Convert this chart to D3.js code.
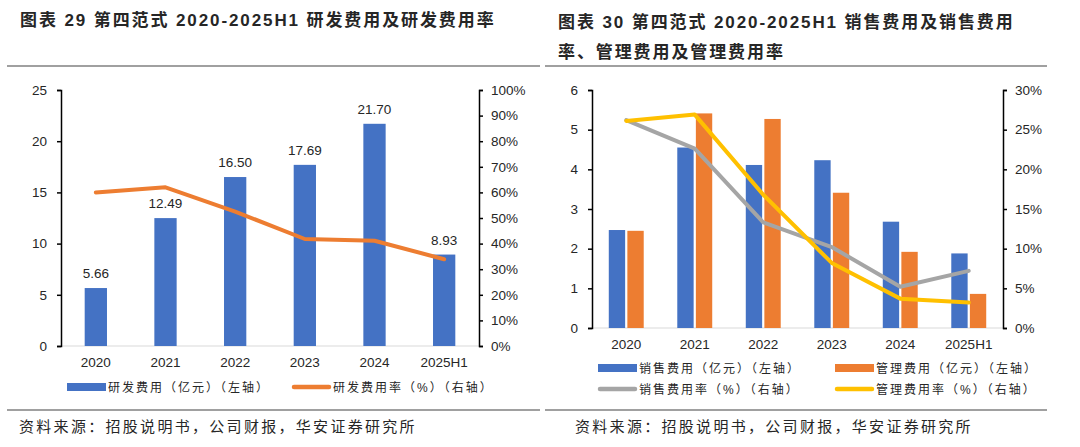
<!DOCTYPE html>
<html>
<head>
<meta charset="utf-8">
<script src="https://cdn.jsdelivr.net/npm/d3@7"></script>
<style>
  body { margin: 0; background: #fff; }
  svg { display: block; }
  text { font-family: "Liberation Sans", Arial, "Noto Sans CJK SC", sans-serif; fill: #262626; }
  .cjk { font-family: "Liberation Sans", "Noto Sans CJK SC", sans-serif; }
</style>
</head>
<body>
<div id="chart"></div>
<script>
// data
const years = ["2020", "2021", "2022", "2023", "2024", "2025H1"];
const rdCost = [5.66, 12.49, 16.50, 17.69, 21.70, 8.93];
const rdRate = [60.0, 62.0, 52.5, 41.8, 41.1, 33.9];
const salesCost = [2.47, 4.55, 4.11, 4.23, 2.68, 1.88];
const mgmtCost = [2.45, 5.41, 5.27, 3.41, 1.92, 0.86];
const salesRate = [26.2, 22.6, 13.3, 10.2, 5.2, 7.2];
const mgmtRate = [26.1, 26.9, 16.8, 8.2, 3.7, 3.2];
const leftTicks = [0, 5, 10, 15, 20, 25];
const leftPctTicks = [0, 10, 20, 30, 40, 50, 60, 70, 80, 90, 100];
const rightTicks = [0, 1, 2, 3, 4, 5, 6];
const rightPctTicks = [0, 5, 10, 15, 20, 25, 30];

const blue = "#4472C4", orange = "#ED7D31", gray = "#A5A5A5", yellow = "#FFC000";

const width = 1080, height = 447;
const svg = d3.select("#chart").append("svg")
  .attr("width", width)
  .attr("height", height);

// titles + rules
function title(x, y, str) {
  svg.append("text").attr("class", "cjk")
    .attr("x", x).attr("y", y)
    .attr("font-size", 17).attr("font-weight", "bold")
    .attr("letter-spacing", 1.9)
    .attr("fill", "#111")
    .text(str);
}
title(20, 26, "图表 29 第四范式 2020-2025H1 研发费用及研发费用率");
title(558, 28, "图表 30 第四范式 2020-2025H1 销售费用及销售费用");
title(558, 58, "率、管理费用及管理费用率");

function rule(x1, x2, y) {
  svg.append("line").attr("x1", x1).attr("x2", x2).attr("y1", y).attr("y2", y)
    .attr("stroke", "#808080").attr("stroke-width", 1.5);
}
rule(7, 540, 66);
rule(545, 1047, 66);
rule(7, 540, 410);
rule(545, 1047, 410);

function source(x) {
  svg.append("text").attr("class", "cjk")
    .attr("x", x).attr("y", 432)
    .attr("font-size", 15).attr("letter-spacing", 2.3)
    .attr("fill", "#222")
    .text("资料来源：招股说明书，公司财报，华安证券研究所");
}
source(19);
source(575);

function styleAxis(g) {
  g.select(".domain").attr("stroke", "#000").attr("stroke-width", 1.5);
  g.selectAll(".tick line").attr("stroke", "#000").attr("stroke-width", 1.5);
  g.selectAll(".tick text").attr("font-size", 13.5).attr("fill", "#262626");
}

function legendRect(x, y, color, label) {
  svg.append("rect").attr("x", x).attr("y", y - 4).attr("width", 39).attr("height", 8).attr("fill", color);
  svg.append("text").attr("class", "cjk").attr("x", x + 41).attr("y", y + 4.5)
    .attr("font-size", 12).attr("letter-spacing", 2).text(label);
}
function legendLine(x, y, color, label) {
  svg.append("line").attr("x1", x + 2).attr("x2", x + 37).attr("y1", y).attr("y2", y)
    .attr("stroke", color).attr("stroke-width", 4.5).attr("stroke-linecap", "round");
  svg.append("text").attr("class", "cjk").attr("x", x + 41).attr("y", y + 4.5)
    .attr("font-size", 12).attr("letter-spacing", 2).text(label);
}

// ---------- left chart ----------
{
  const x0 = 61, x1 = 479, top = 90, bottom = 346;
  const x = d3.scaleBand().domain(years).range([x0, x1]).paddingInner(0.68).paddingOuter(0.34);
  const y = d3.scaleLinear().domain([0, 25]).range([bottom, top]);
  const yr = d3.scaleLinear().domain([0, 100]).range([bottom, top]);

  svg.append("line").attr("x1", x0).attr("x2", x1).attr("y1", bottom).attr("y2", bottom)
    .attr("stroke", "#D9D9D9").attr("stroke-width", 1);

  svg.append("g").selectAll("rect")
    .data(rdCost)
    .join("rect")
    .attr("x", (d, i) => x(years[i]))
    .attr("y", d => y(d))
    .attr("width", x.bandwidth())
    .attr("height", d => bottom - y(d))
    .attr("fill", blue);

  svg.append("g").selectAll("text")
    .data(rdCost)
    .join("text")
    .attr("x", (d, i) => x(years[i]) + x.bandwidth() / 2)
    .attr("y", d => y(d) - 10)
    .attr("text-anchor", "middle")
    .attr("font-size", 13.5)
    .text(d => d.toFixed(2));

  const line = d3.line()
    .x((d, i) => x(years[i]) + x.bandwidth() / 2)
    .y(d => yr(d));
  svg.append("path").datum(rdRate)
    .attr("d", line)
    .attr("fill", "none").attr("stroke", orange).attr("stroke-width", 4)
    .attr("stroke-linecap", "round").attr("stroke-linejoin", "round");

  svg.append("g").attr("transform", `translate(${x0},0)`)
    .call(d3.axisLeft(y).tickValues(leftTicks).tickFormat(d3.format("d")).tickSize(4).tickPadding(10).tickSizeOuter(4))
    .call(styleAxis);
  svg.append("g").attr("transform", `translate(${x1},0)`)
    .call(d3.axisRight(yr).tickValues(leftPctTicks).tickFormat(d => d + "%").tickSize(4).tickPadding(8).tickSizeOuter(4))
    .call(styleAxis);

  svg.append("g").selectAll("text")
    .data(years)
    .join("text")
    .attr("x", d => x(d) + x.bandwidth() / 2)
    .attr("y", 367)
    .attr("text-anchor", "middle")
    .attr("font-size", 13.5)
    .text(d => d);

  legendRect(67, 387, blue, "研发费用（亿元）（左轴）");
  legendLine(292, 387, orange, "研发费用率（%）（右轴）");
}

// ---------- right chart ----------
{
  const x0 = 592, x1 = 1003, top = 90, bottom = 328;
  const x = d3.scaleBand().domain(years).range([x0, x1]).paddingInner(0.49).paddingOuter(0.245);
  const xs = d3.scaleBand().domain(["sales", "mgmt"]).range([0, x.bandwidth()]).paddingInner(0.12);
  const y = d3.scaleLinear().domain([0, 6]).range([bottom, top]);
  const yr = d3.scaleLinear().domain([0, 30]).range([bottom, top]);

  svg.append("line").attr("x1", x0).attr("x2", x1).attr("y1", bottom).attr("y2", bottom)
    .attr("stroke", "#D9D9D9").attr("stroke-width", 1);

  svg.append("g").selectAll("rect")
    .data(salesCost)
    .join("rect")
    .attr("x", (d, i) => x(years[i]) + xs("sales"))
    .attr("y", d => y(d))
    .attr("width", xs.bandwidth())
    .attr("height", d => bottom - y(d))
    .attr("fill", blue);

  svg.append("g").selectAll("rect")
    .data(mgmtCost)
    .join("rect")
    .attr("x", (d, i) => x(years[i]) + xs("mgmt"))
    .attr("y", d => y(d))
    .attr("width", xs.bandwidth())
    .attr("height", d => bottom - y(d))
    .attr("fill", orange);

  const line = d3.line()
    .x((d, i) => x(years[i]) + x.bandwidth() / 2)
    .y(d => yr(d));
  svg.append("path").datum(salesRate)
    .attr("d", line)
    .attr("fill", "none").attr("stroke", gray).attr("stroke-width", 4)
    .attr("stroke-linecap", "round").attr("stroke-linejoin", "round");
  svg.append("path").datum(mgmtRate)
    .attr("d", line)
    .attr("fill", "none").attr("stroke", yellow).attr("stroke-width", 4)
    .attr("stroke-linecap", "round").attr("stroke-linejoin", "round");

  svg.append("g").attr("transform", `translate(${x0},0)`)
    .call(d3.axisLeft(y).tickValues(rightTicks).tickFormat(d3.format("d")).tickSize(4).tickPadding(10).tickSizeOuter(4))
    .call(styleAxis);
  svg.append("g").attr("transform", `translate(${x1},0)`)
    .call(d3.axisRight(yr).tickValues(rightPctTicks).tickFormat(d => d + "%").tickSize(4).tickPadding(8).tickSizeOuter(4))
    .call(styleAxis);

  svg.append("g").selectAll("text")
    .data(years)
    .join("text")
    .attr("x", d => x(d) + x.bandwidth() / 2)
    .attr("y", 349)
    .attr("text-anchor", "middle")
    .attr("font-size", 13.5)
    .text(d => d);

  legendRect(598, 368, blue, "销售费用（亿元）（左轴）");
  legendRect(835, 368, orange, "管理费用（亿元）（左轴）");
  legendLine(598, 389, gray, "销售费用率（%）（右轴）");
  legendLine(835, 389, yellow, "管理费用率（%）（右轴）");
}
</script>
</body>
</html>
